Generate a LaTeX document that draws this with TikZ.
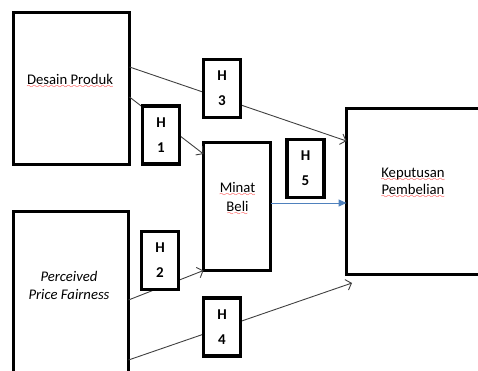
\documentclass[tikz,border=0pt]{standalone}
\usepackage{fontspec}
\setmainfont{Carlito}
\usetikzlibrary{arrows.meta}

\definecolor{linkblue}{RGB}{79,129,189}
\font\wavefont=lasy8
\newcommand\spellerr[1]{\setbox0\hbox{#1}\rlap{\color{red}\lower4pt\hbox to\wd0{\xleaders\hbox{\wavefont\char58}\hfil}}\box0}

\begin{document}
\begin{tikzpicture}[x=1pt, y=-1pt, font=\fontsize{14.7}{18}\selectfont]
    \tikzstyle{box} = [draw, line width=3.2pt, rectangle, inner sep=0pt, outer sep=0pt]
    \tikzstyle{hbox} = [box, fill=white, minimum width=37pt, minimum height=58pt, align=center, font=\fontsize{15}{25}\selectfont\bfseries]
    \tikzstyle{ann} = [draw=none, fill=none, align=center]
    \tikzstyle{link} = [draw=black!75, line width=0.9pt, -{Straight Barb[length=5pt,width=11pt]}]
    \tikzstyle{flow} = [draw=linkblue, line width=1pt, -{Triangle[length=8pt,width=7pt]}]
    \useasboundingbox (0,0) rectangle (478,371);
    \clip (0,0) rectangle (478,371);

\node[box, minimum width=116pt, minimum height=152pt] (desain) at (71.5,88.5) {};
\node[box, minimum width=115pt, minimum height=209pt] (perceived) at (71,316) {};
\node[box, minimum width=67pt, minimum height=128pt] (minat) at (237,206.5) {};
\node[box, minimum width=194pt, minimum height=166pt] (keputusan) at (443.5,191.5) {};

\node[ann] (desain-t) at (70,81) {\spellerr{Desain Produk}};
\node[ann, font=\fontsize{14.7}{18}\selectfont\itshape] (perceived-t) at (69,285) {Perceived\\Price Fairness};
\node[ann, font=\fontsize{14.7}{19}\selectfont] (minat-t) at (237.5,198.5) {\spellerr{Minat}\\\spellerr{Beli}};
\node[ann, font=\fontsize{14.7}{17}\selectfont] (keputusan-t) at (413,183.5) {\spellerr{Keputusan}\\\spellerr{Pembelian}};

\draw[link] ([yshift=21.5pt]desain.east) -- ([yshift=50.5pt]keputusan.west);
\draw[link] ([yshift=-8.5pt]desain.east) -- ([yshift=52.5pt]minat.west);
\draw[link] ([yshift=-88.5pt]perceived.north east) -- (minat.south west);
\draw[link] ([yshift=-148.5pt]perceived.north east) -- ([shift={(5.5pt,-8.5pt)}]keputusan.south west);
\coordinate (m5) at ([yshift=3.5pt]minat.east);
\draw[flow] (m5) -- (m5 -| keputusan.west);

\node[hbox] (h1) at (161,135) {H\\1};
\node[hbox] (h2) at (160,260.5) {H\\2};
\node[hbox] (h3) at (222,88.5) {H\\3};
\node[hbox] (h4) at (222,327) {H\\4};
\node[hbox] (h5) at (305.5,168.5) {H\\5};
\end{tikzpicture}
\end{document}
